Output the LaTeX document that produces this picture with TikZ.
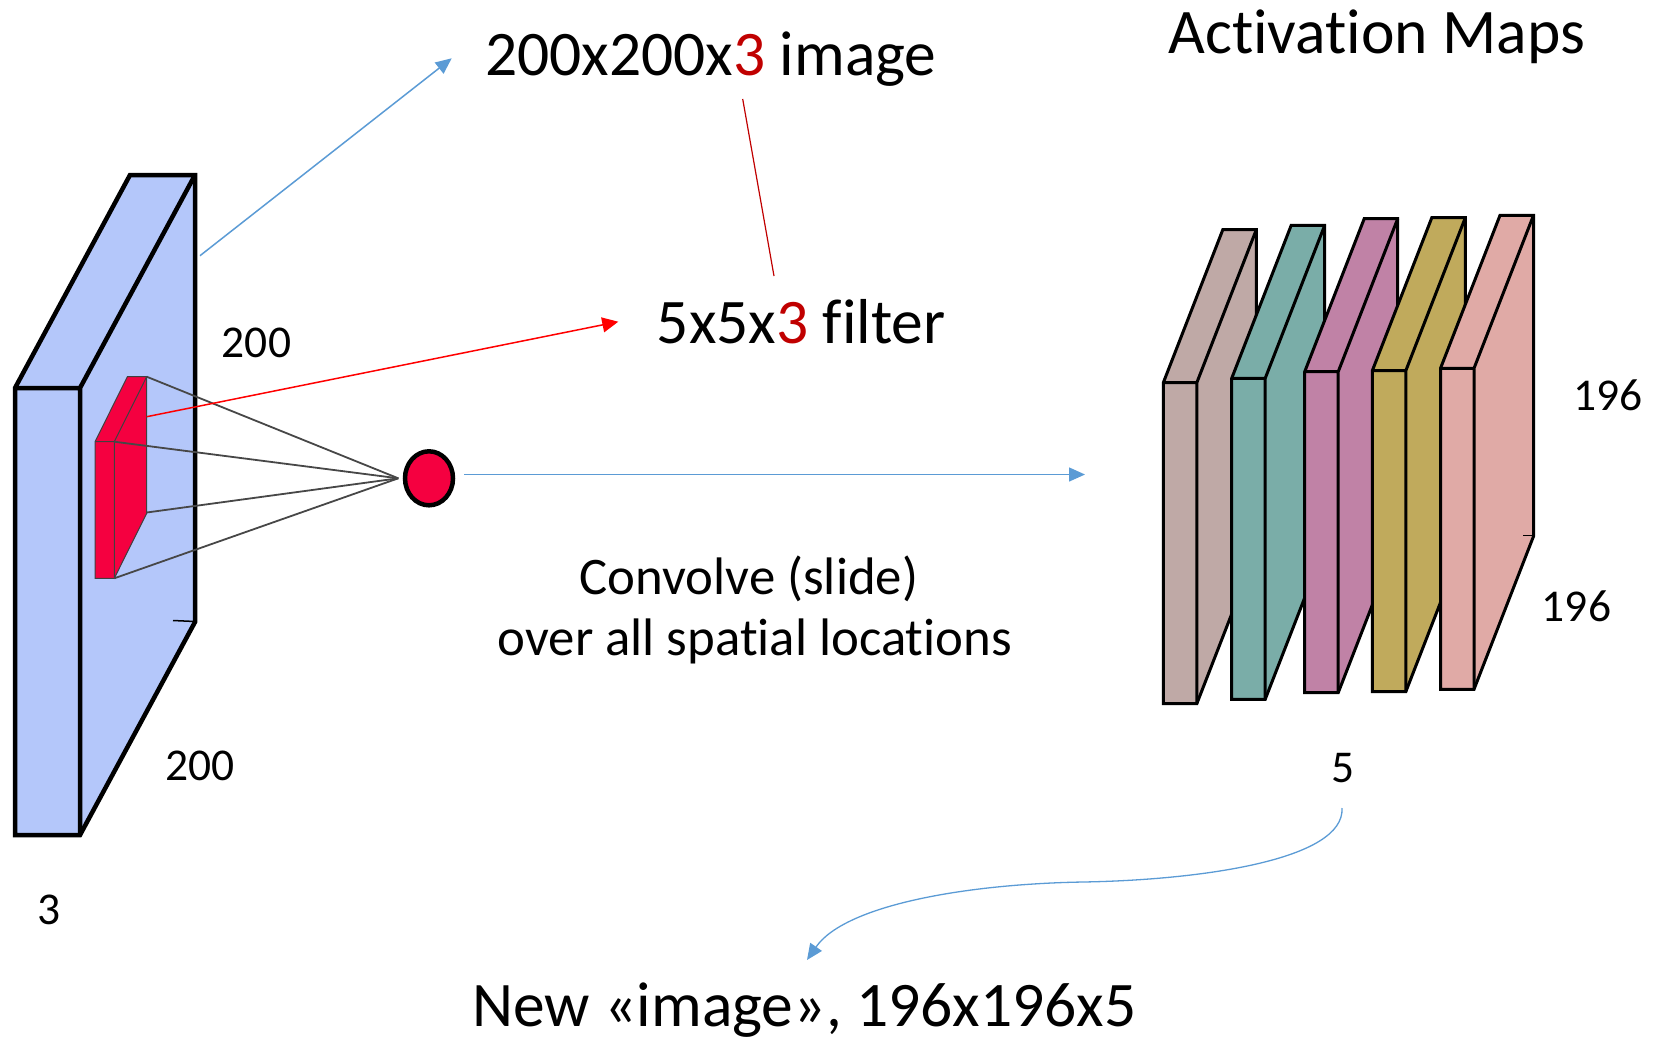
\documentclass[tikz,border=0pt]{standalone}
\usepackage{fontspec}
\setmainfont{Carlito}[Ligatures=NoCommon]
\usetikzlibrary{arrows.meta,shapes.geometric}

\definecolor{slabblue}{RGB}{180,199,250}
\definecolor{filterred}{RGB}{245,0,64}
\definecolor{linkblue}{RGB}{91,155,213}
\definecolor{darkred}{RGB}{192,0,0}
\definecolor{mapA}{RGB}{191,169,166}
\definecolor{mapB}{RGB}{122,173,168}
\definecolor{mapC}{RGB}{192,130,166}
\definecolor{mapD}{RGB}{192,170,92}
\definecolor{mapE}{RGB}{224,170,166}

% one activation map: front-top-left corner (#1,#2), fill colour #3
\newcommand{\actslab}[3]{%
  \filldraw[mapedge, fill=#3] (#1,{#2+321}) -- (#1,#2) -- ({#1+59.5},{#2-153})
    -- ({#1+93},{#2-153}) -- ({#1+93},{#2+168}) -- ({#1+33.5},{#2+321}) -- cycle;
  \draw[mapedge] (#1,#2) -- ({#1+33.5},#2) -- ({#1+33.5},{#2+321})
    ({#1+33.5},#2) -- ({#1+93},{#2-153});
}

\begin{document}
\begin{tikzpicture}[x=1pt, y=-1pt,
  mapedge/.style={draw=black, line width=3pt},
  slabedge/.style={draw=black, line width=4.5pt},
  filteredge/.style={draw=black!75, line width=1pt},
  fanline/.style={draw=black!72, line width=1.8pt},
  bigtext/.style={inner sep=0pt, anchor=base west, font=\fontsize{63.5}{70}\selectfont},
  midtext/.style={inner sep=0pt, anchor=base, font=\fontsize{52.8}{60}\selectfont},
  dimtext/.style={inner sep=0pt, anchor=base west, font=\fontsize{45.5}{50}\selectfont},
  bluearrow/.style={draw=linkblue, line width=1.5pt, -{Triangle[length=16pt,width=14pt]}},
  redarrow/.style={draw=red, line width=1.5pt, -{Triangle[length=16pt,width=15pt]}},
]
\useasboundingbox (0,0) rectangle (1657,1042);

% input volume
\filldraw[slabedge, fill=slabblue] (15,835) -- (15,388) -- (130,175) -- (195,175)
  -- (195,622) -- (80,835) -- cycle;
\draw[slabedge] (15,388) -- (80,388) -- (80,835) (80,388) -- (195,175);
\draw[black, line width=1.5pt] (173,620.5) -- (195,621.5);

% receptive field of the filter
\filldraw[filteredge, fill=filterred] (95,578.3) -- (95,441.7) -- (127.4,376.7)
  -- (146.7,376.7) -- (146.7,513.3) -- (114.3,578.3) -- cycle;
\draw[filteredge] (95,441.7) -- (114.3,441.7) -- (114.3,578.3)
  (114.3,441.7) -- (146.7,376.7);

\coordinate (fbacktop) at (146.7,376.7);
\coordinate (ffronttop) at (114.3,441.7);
\coordinate (fbackbot) at (146.7,512.5);
\coordinate (ffrontbot) at (114.3,578.3);
\coordinate (fmid) at (146.7,416.7);

% output neuron
\node[ellipse, draw=black, line width=4.5pt, fill=filterred,
      minimum width=48pt, minimum height=54pt, inner sep=0pt] (neuron) at (429,478.3) {};
\coordinate (fan) at (398.3,478.3);
\foreach \c in {fbacktop,ffronttop,fbackbot,ffrontbot}
  \draw[fanline] (\c) -- (fan);

% labels of the input
\node[bigtext] (imgtxt) at (485,75) {200x200x\textcolor{darkred}{3} image};
\node[bigtext] (filttxt) at (656.7,343.3) {5x5x\textcolor{darkred}{3} filter};
\node[dimtext] (hlbl) at (221.7,357.3) {200};
\node[dimtext] (wlbl) at (165,780) {200};
\node[dimtext] (dlbl) at (37,924) {3};

\coordinate (slabtop) at (200,255.7);
\coordinate (imgtip) at (451.7,58.3);
\draw[bluearrow] (slabtop) -- (imgtip);

\coordinate (filttip) at (618.3,321.7);
\draw[redarrow] (fmid) -- (filttip);

\coordinate (threeA) at (742.7,99);
\coordinate (threeB) at (774,276);
\draw[darkred, line width=1.2pt] (threeA) -- (threeB);

% convolution arrow
\coordinate (convstart) at (464,474.5);
\coordinate (convtip) at (1085,474.5);
\draw[bluearrow] (convstart) -- (convtip);
\node[midtext] (conv1) at (749,594) {Convolve (slide)};
\node[midtext] (conv2) at (755,655) {over all spatial locations};

% activation maps
\node[bigtext] (acttxt) at (1168.3,53.3) {Activation Maps};
\actslab{1163.3}{382.7}{mapA}
\actslab{1231.7}{378.3}{mapB}
\actslab{1304.7}{371.7}{mapC}
\actslab{1372.3}{370.7}{mapD}
\actslab{1440.5}{368.3}{mapE}
\draw[black, line width=1pt] (1523,535.5) -- (1533.5,535.5);

\node[dimtext] (mh) at (1573.3,410) {196};
\node[dimtext] (mw) at (1541.7,621.7) {196};
\node[dimtext] (md) at (1331.5,782) {5};

% new volume
\node[bigtext] (newtxt) at (472,1026) {New «image», 196x196x5};
\coordinate (curvestart) at (1342,808);
\coordinate (curvetip) at (807,960);
\draw[bluearrow, line width=1.3pt] (curvestart) .. controls (1345,860) and (1200,880) .. (1083,882)
  .. controls (966,884) and (845,905) .. (curvetip);
\end{tikzpicture}
\end{document}
